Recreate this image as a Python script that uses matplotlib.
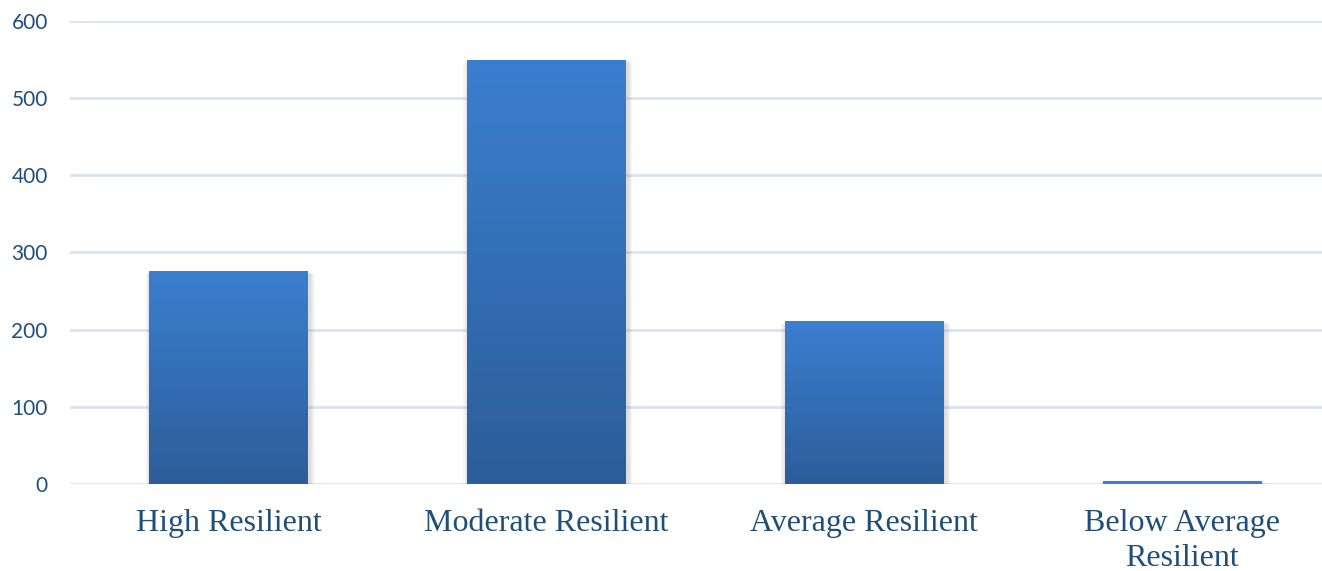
import numpy as np
import matplotlib.pyplot as plt
from matplotlib.colors import LinearSegmentedColormap

# resilience groups and their counts
categories = ['High Resilient', 'Moderate Resilient', 'Average Resilient', 'Below Average\nResilient']
counts = [276, 550, 211, 4]
y_ticks = [0, 100, 200, 300, 400, 500, 600]

label_color = '#1f4e79'
grid_color = '#d9e3f1'
bar_cmap = LinearSegmentedColormap.from_list('bar', ['#2c5d99', '#3b7fd0'])

fig = plt.figure(figsize=(13.22, 5.71), dpi=100)
ax = fig.add_axes([70 / 1322, 87 / 571, 1 - 70 / 1322, 463 / 571])

x = np.arange(len(categories))
width = 0.5

# soft shadow: a few widening translucent layers behind each bar
for k in range(1, 5):
    grow = 0.004 * k
    ax.bar(x + 0.004, np.array(counts) + 1.0 * k, width=width + 2 * grow,
           bottom=-2.0 * k, color='#808080', alpha=0.07, zorder=2, linewidth=0)
bars = ax.bar(x, counts, width=width, color='none', zorder=3)

# vertical gradient fill clipped to each bar
grad = np.linspace(0, 1, 256).reshape(-1, 1)
for b in bars:
    bx, by = b.get_x(), b.get_y()
    bw, bh = b.get_width(), b.get_height()
    im = ax.imshow(grad, cmap=bar_cmap, origin='lower', aspect='auto',
                   extent=[bx, bx + bw, by, by + bh], zorder=3)
    im.set_clip_path(b)
    if bh < 10:
        b.set_facecolor('#3b7fd0')
        b.set_zorder(4)

ax.set_xlim(-0.5, 3.44)
ax.set_ylim(0, 600)
ax.set_yticks(y_ticks)
ax.yaxis.grid(True, color=grid_color, linewidth=2)
ax.set_axisbelow(True)
for s in ax.spines.values():
    s.set_visible(False)

ax.set_xticks(x)
ax.set_xticklabels(categories, family='Liberation Serif', fontsize=23,
                   color=label_color, linespacing=1.25)
ax.tick_params(axis='x', length=0, pad=18)
ax.tick_params(axis='y', length=0, pad=16, labelsize=15, labelcolor=label_color)
for t in ax.get_yticklabels():
    t.set_family('Lato')

fig.savefig('out.png', dpi=100)
